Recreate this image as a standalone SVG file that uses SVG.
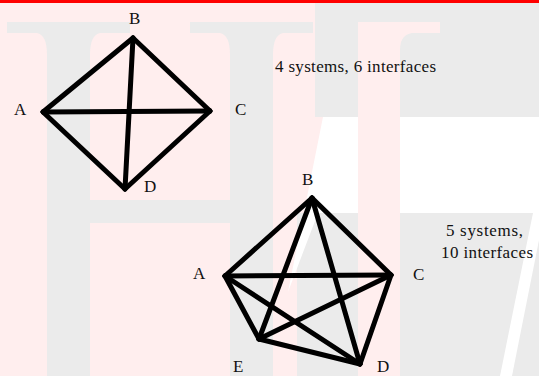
<svg xmlns="http://www.w3.org/2000/svg" width="539" height="376" viewBox="0 0 539 376">
<style>
.bgp{fill:#ffeeee}
.bgg{fill:#ebebeb}
.bgw{fill:#ffffff}
.edge{stroke:#000;stroke-width:5;stroke-linecap:round;fill:none}
.lbl{font-family:'Liberation Serif','Times New Roman',Tinos,serif;font-size:17px;fill:#111}
</style>
<g id="background">
<rect class="bgp" x="0" y="0" width="539" height="376"/>
<rect class="bgg" x="315" y="3" width="224" height="114"/>
<rect class="bgg" x="297" y="213" width="242" height="163"/>
<path class="bgg" d="M7,22 H130 V33 H100 Q90,35 90,55 V376 H47 V55 Q47,35 37,33 H7 Z"/>
<path class="bgg" d="M190,22 H313 V33 H283 Q273,35 273,55 V376 H230 V55 Q230,35 220,33 H190 Z"/>
<rect class="bgg" x="90" y="200" width="140" height="23"/>
<polygon class="bgw" points="323,117 539,117 539,213 318,213 288,292"/>
<polygon class="bgw" points="533,213 539,213 539,240 512,376 500,376"/>
<path class="bgp" d="M358,22 H440 V33 H412 Q400,35 400,50 V376 H358 Z"/>
<rect x="0" y="0" width="539" height="3" fill="#ff0000"/>
</g>
<g id="connectors">
<line class="edge" x1="43" y1="112" x2="133" y2="38"/>
<line class="edge" x1="133" y1="38" x2="210" y2="111"/>
<line class="edge" x1="210" y1="111" x2="125" y2="189"/>
<line class="edge" x1="125" y1="189" x2="43" y2="112"/>
<line class="edge" x1="43" y1="112" x2="210" y2="111"/>
<line class="edge" x1="133" y1="38" x2="125" y2="189"/>
<line class="edge" x1="225" y1="276" x2="312" y2="198"/>
<line class="edge" x1="312" y1="198" x2="391" y2="275"/>
<line class="edge" x1="391" y1="275" x2="360" y2="364"/>
<line class="edge" x1="360" y1="364" x2="259" y2="339"/>
<line class="edge" x1="259" y1="339" x2="225" y2="276"/>
<line class="edge" x1="225" y1="276" x2="391" y2="275"/>
<line class="edge" x1="225" y1="276" x2="360" y2="364"/>
<line class="edge" x1="312" y1="198" x2="259" y2="339"/>
<line class="edge" x1="312" y1="198" x2="360" y2="364"/>
<line class="edge" x1="391" y1="275" x2="259" y2="339"/>
</g>
<g id="graph4">
<g id="n4A"><text class="lbl" x="14" y="115">A</text></g>
<g id="n4B"><text class="lbl" x="129" y="24">B</text></g>
<g id="n4C"><text class="lbl" x="235" y="115">C</text></g>
<g id="n4D"><text class="lbl" x="144" y="192">D</text></g>
<g id="caption4"><text class="lbl" x="275" y="72" textLength="161">4 systems, 6 interfaces</text></g>
</g>
<g id="graph5">
<g id="n5A"><text class="lbl" x="193" y="279">A</text></g>
<g id="n5B"><text class="lbl" x="302" y="185">B</text></g>
<g id="n5C"><text class="lbl" x="413" y="280">C</text></g>
<g id="n5D"><text class="lbl" x="377" y="372">D</text></g>
<g id="n5E"><text class="lbl" x="233" y="372">E</text></g>
<g id="caption5"><text class="lbl" x="446" y="236" textLength="77">5 systems,</text><text class="lbl" x="441" y="258" textLength="92">10 interfaces</text></g>
</g>
</svg>
